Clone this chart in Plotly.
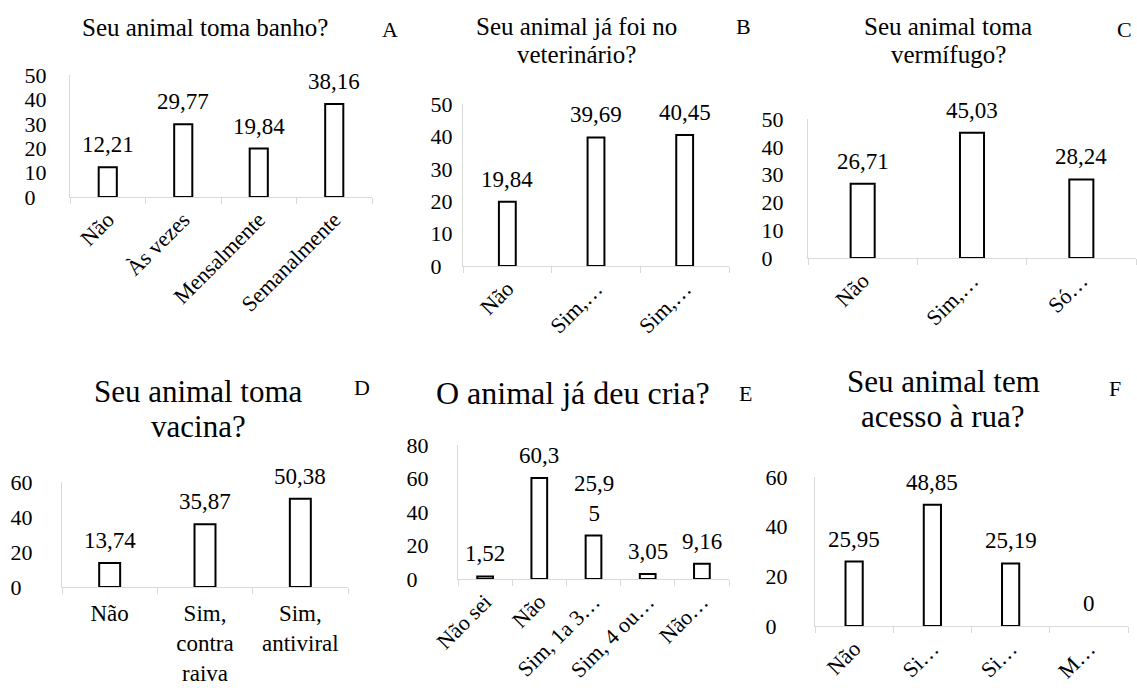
import plotly.graph_objects as go

W, H = 1137, 688
FONT = "Liberation Serif"

# ---------------- data ----------------
a_cats = ["Não", "Às vezes", "Mensalmente", "Semanalmente"]
a_vals = [12.21, 29.77, 19.84, 38.16]
a_title = ["Seu animal toma banho?"]

b_cats = ["Não", "Sim,…", "Sim,…"]
b_vals = [19.84, 39.69, 40.45]
b_title = ["Seu animal já foi no", "veterinário?"]

c_cats = ["Não", "Sim,…", "Só…"]
c_vals = [26.71, 45.03, 28.24]
c_title = ["Seu animal toma", "vermífugo?"]

d_cats = ["Não", "Sim,<br>contra<br>raiva", "Sim,<br>antiviral"]
d_vals = [13.74, 35.87, 50.38]
d_title = ["Seu animal toma", "vacina?"]

e_cats = ["Não sei", "Não", "Sim, 1a 3…", "Sim, 4 ou…", "Não…"]
e_vals = [1.52, 60.3, 25.95, 3.05, 9.16]
e_title = ["O animal já deu cria?"]

f_cats = ["Não", "Si…", "Si…", "M…"]
f_vals = [25.95, 48.85, 25.19, 0]
f_title = ["Seu animal tem", "acesso à rua?"]

letters = ["A", "B", "C", "D", "E", "F"]
y_max = [50, 50, 50, 60, 80, 60]
y_step = [10, 10, 10, 20, 20, 20]

# ---------------- layout / style ----------------
panels = [
    dict(cats=a_cats, vals=a_vals, title=a_title),
    dict(cats=b_cats, vals=b_vals, title=b_title),
    dict(cats=c_cats, vals=c_vals, title=c_title),
    dict(cats=d_cats, vals=d_vals, title=d_title),
    dict(cats=e_cats, vals=e_vals, title=e_title),
    dict(cats=f_cats, vals=f_vals, title=f_title),
]
# plot-area boxes in pixels: left, right, top, bottom
boxes = [(70, 372, 75, 197), (463, 729, 104, 266), (808, 1136, 119, 258),
         (62, 348, 482, 587), (458, 729, 445, 579), (815, 1128, 477, 626)]
bar_w = [0.24, 0.19, 0.22, 0.22, 0.29, 0.22]
tick_angle = [-45, -45, -45, 0, -45, -45]
xlab_gap = [0, 0, 0, 5, 0, 0]
title_x = [205, 576, 948, 198, 573, 943]
title_y = [[28], [27, 54], [27, 54], [391, 426], [393], [381, 416]]
title_size = [25, 25, 25, 31, 32, 31]
letter_xy = [(390, 30), (743, 27), (1124, 30), (362, 387), (745, 393), (1115, 388)]
ylab_gap = [18, 5, 19, 24, 24, 22]
wrap_len = [None, None, None, None, 4, None]

GRAY = "#d9d9d9"


def px(x):
    return x / W


def py(y):
    return 1 - y / H


def fmt(v, wrap):
    s = f"{v:g}".replace(".", ",")
    if wrap and len(s) > wrap:
        s = s[:wrap] + "<br>" + s[wrap:]
    return s


fig = go.Figure()
annotations = []
layout = dict(
    width=W, height=H,
    margin=dict(l=0, r=0, t=0, b=0, autoexpand=False),
    paper_bgcolor="white", plot_bgcolor="white",
    showlegend=False,
    font=dict(family=FONT, color="black", size=22),
)

for i, p in enumerate(panels):
    k = "" if i == 0 else str(i + 1)
    n = len(p["cats"])
    xs = list(range(n))
    fig.add_trace(go.Bar(
        x=xs, y=p["vals"], width=bar_w[i],
        marker=dict(color="white",
                    line=dict(color="black", width=[0 if v == 0 else 2 for v in p["vals"]])),
        xaxis="x" + k, yaxis="y" + k, hoverinfo="skip",
    ))
    l, r, t, b = boxes[i]
    layout["xaxis" + k] = dict(
        domain=[px(l), px(r)], anchor="y" + k,
        range=[-0.5, n - 0.5], automargin=False,
        tickmode="array", tickvals=xs, ticktext=p["cats"],
        tickangle=tick_angle[i], ticks="",
        ticklabelstandoff=xlab_gap[i],
        showline=True, linecolor=GRAY, linewidth=1.3,
        showgrid=False, zeroline=False,
        tickfont=dict(size=22 if tick_angle[i] else 23),
        minor=dict(tickvals=[j - 0.5 for j in range(n + 1)], ticks="outside",
                   ticklen=6, tickcolor=GRAY, tickwidth=1.3, showgrid=False),
    )
    yv = list(range(0, y_max[i] + 1, y_step[i]))
    maxlen = len(str(y_max[i]))
    ytext = [str(v) + "\u00a0\u00a0" * (maxlen - len(str(v))) for v in yv]
    layout["yaxis" + k] = dict(
        domain=[py(b), py(t)], anchor="x" + k,
        range=[0, y_max[i]], automargin=False,
        tickmode="array", tickvals=yv, ticktext=ytext,
        ticks="", showline=True, linecolor=GRAY, linewidth=1.3,
        showgrid=False, zeroline=False,
        ticklabelstandoff=ylab_gap[i],
        tickfont=dict(size=22),
    )
    # data labels
    for j, v in enumerate(p["vals"]):
        annotations.append(dict(
            x=j, y=v, xref="x" + k, yref="y" + k,
            text=fmt(v, wrap_len[i]), showarrow=False,
            yanchor="bottom", yshift=8, font=dict(size=23),
        ))
    # title lines
    for line, yy in zip(p["title"], title_y[i]):
        annotations.append(dict(
            x=px(title_x[i]), y=py(yy), xref="paper", yref="paper",
            text=line, showarrow=False, xanchor="center", yanchor="middle",
            font=dict(size=title_size[i]),
        ))
    lx, ly = letter_xy[i]
    annotations.append(dict(
        x=px(lx), y=py(ly), xref="paper", yref="paper",
        text=letters[i], showarrow=False, xanchor="center", yanchor="middle",
        font=dict(size=22),
    ))

layout["annotations"] = annotations
fig.update_layout(**layout)
fig.write_html("out.html")
